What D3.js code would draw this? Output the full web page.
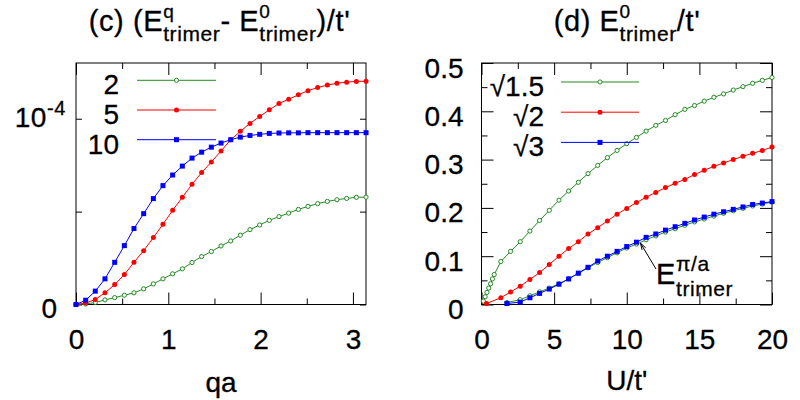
<!DOCTYPE html>
<html>
<head>
<meta charset="utf-8">
<script src="https://cdn.jsdelivr.net/npm/d3@7"></script>
<style>
  body { margin: 0; background: #fff; }
  svg { display: block; }
  text { font-family: "Liberation Sans", Arial, Helvetica, sans-serif; fill: #000; stroke: #000; stroke-width: 0.3px; }
</style>
</head>
<body>
<svg id="chart" width="800" height="400"></svg>
<script>
// ---------- panel (c): (E^q - E^0)/t' vs qa, values in units of 1e-4 ----------
const qa = [0, 0.105, 0.209, 0.314, 0.419, 0.524, 0.628, 0.733, 0.838, 0.942,
  1.047, 1.152, 1.257, 1.361, 1.466, 1.571, 1.676, 1.780, 1.885, 1.990,
  2.094, 2.199, 2.304, 2.409, 2.513, 2.618, 2.723, 2.827, 2.932, 3.037, 3.142];
const dE2 = [0, 0.003, 0.011, 0.025, 0.037, 0.050, 0.063, 0.084, 0.111, 0.138,
  0.165, 0.192, 0.226, 0.258, 0.285, 0.315, 0.342, 0.373, 0.403, 0.428,
  0.453, 0.473, 0.492, 0.512, 0.528, 0.543, 0.555, 0.564, 0.571, 0.577, 0.578];
const dE5 = [0, 0.008, 0.027, 0.063, 0.107, 0.161, 0.227, 0.290, 0.360, 0.432,
  0.507, 0.577, 0.647, 0.710, 0.767, 0.826, 0.887, 0.932, 0.975, 1.012,
  1.048, 1.082, 1.105, 1.129, 1.151, 1.168, 1.181, 1.191, 1.197, 1.201, 1.202];
const dE10 = [0, 0.023, 0.072, 0.138, 0.227, 0.317, 0.409, 0.489, 0.570, 0.640,
  0.697, 0.745, 0.788, 0.820, 0.847, 0.869, 0.887, 0.901, 0.910, 0.916,
  0.921, 0.923, 0.924, 0.924, 0.925, 0.925, 0.925, 0.925, 0.925, 0.925, 0.925];
const legendC = ['2', '5', '10'];
const Y_UNIT = 1e-4;

// ---------- panel (d): E^0/t' vs U/t' ----------
const uS15 = [0.125, 0.25, 0.375, 0.5, 0.625, 0.75, 0.875,
  1.333, 2, 2.667, 3.333, 4, 4.667, 5.333, 6, 6.667, 7.333, 8, 8.667, 9.333, 10,
  10.667, 11.333, 12, 12.667, 13.333, 14, 14.667, 15.333, 16, 16.667, 17.333, 18,
  18.667, 19.333, 20];
const eS15 = [0.007, 0.016, 0.025, 0.034, 0.043, 0.053, 0.062,
  0.089, 0.110, 0.130, 0.152, 0.174, 0.195, 0.216, 0.235, 0.253, 0.271, 0.288,
  0.304, 0.319, 0.333, 0.346, 0.359, 0.371, 0.381, 0.393, 0.404, 0.412, 0.421,
  0.429, 0.436, 0.444, 0.451, 0.458, 0.464, 0.470];
const uS2 = [0.35, 1.333, 2, 2.667, 3.333, 4, 4.667, 5.333, 6, 6.667, 7.333, 8,
  8.667, 9.333, 10, 10.667, 11.333, 12, 12.667, 13.333, 14, 14.667, 15.333, 16,
  16.667, 17.333, 18, 18.667, 19.333, 20];
const eS2 = [0.002, 0.014, 0.026, 0.038, 0.052, 0.066, 0.083, 0.100, 0.116,
  0.130, 0.146, 0.159, 0.173, 0.187, 0.199, 0.211, 0.222, 0.232, 0.242, 0.251,
  0.259, 0.269, 0.278, 0.286, 0.293, 0.300, 0.307, 0.313, 0.319, 0.326];
const uS3 = [1.75, 2.667, 3.333, 4, 4.667, 5.333, 6, 6.667, 7.333, 8, 8.667,
  9.333, 10, 10.667, 11.333, 12, 12.667, 13.333, 14, 14.667, 15.333, 16, 16.667,
  17.333, 18, 18.667, 19.333, 20];
const eS3 = [0.002, 0.005, 0.014, 0.023, 0.032, 0.042, 0.053, 0.065, 0.077,
  0.090, 0.100, 0.110, 0.120, 0.129, 0.139, 0.146, 0.154, 0.161, 0.168, 0.175,
  0.181, 0.187, 0.192, 0.197, 0.202, 0.207, 0.210, 0.213];
// E^{pi/a}_trimer (sqrt 1.5), same U grid as sqrt 3
const ePi = [0.004, 0.010, 0.018, 0.026, 0.034, 0.043, 0.053, 0.064, 0.076,
  0.087, 0.097, 0.107, 0.117, 0.125, 0.134, 0.142, 0.150, 0.157, 0.164, 0.171,
  0.177, 0.183, 0.189, 0.194, 0.199, 0.204, 0.208, 0.212];
const legendD = ['\u221A1.5', '\u221A2', '\u221A3'];

const GREEN = '#228b22', RED = '#ff0000', BLUE = '#0000ff';
const TICK_FONT = 28;
const SUB = 21, SUP = 19, MAIN = 29;

const svg = d3.select('#chart');

// sequence of text pieces; a piece with .stack is a sup/sub pair sharing one x
function richText(parent, x, y, parts, anchor) {
  const g = parent.append('g');
  let cx = 0;
  parts.forEach(p => {
    const items = p.stack || [p];
    let w = 0;
    items.forEach(s => {
      const t = g.append('text')
        .attr('x', cx).attr('y', s.dy || 0)
        .attr('font-size', s.size)
        .attr('letter-spacing', 0.6)
        .text(s.t);
      w = Math.max(w, t.node().getComputedTextLength());
    });
    cx += w;
  });
  const shift = anchor === 'middle' ? -cx / 2 : anchor === 'end' ? -cx : 0;
  g.attr('transform', `translate(${x + shift},${y})`);
  return g;
}

function drawTicks(g, axis) {
  g.call(axis);
  g.attr('font-family', null).attr('font-size', null);
  g.select('.domain').remove();
  g.selectAll('.tick line').attr('stroke', '#000').attr('stroke-width', 1);
  g.selectAll('.tick text').attr('font-size', TICK_FONT);
}

function frame(g, x, y) {
  g.append('rect')
    .attr('x', x.range()[0]).attr('y', y.range()[1])
    .attr('width', x.range()[1] - x.range()[0])
    .attr('height', y.range()[0] - y.range()[1])
    .attr('fill', 'none').attr('stroke', '#000').attr('stroke-width', 1);
}

function series(g, xs, ys, x, y, color, shape) {
  const pts = xs.map((v, i) => [x(v), y(ys[i])]);
  g.append('path')
    .attr('d', d3.line()(pts))
    .attr('fill', 'none').attr('stroke', color).attr('stroke-width', 1);
  markers(g, pts, color, shape);
}

function markers(g, pts, color, shape) {
  if (shape === 'square') {
    g.selectAll(null).data(pts).join('rect')
      .attr('x', d => d[0] - 2.5).attr('y', d => d[1] - 2.5)
      .attr('width', 5).attr('height', 5).attr('fill', color);
  } else if (shape === 'dot') {
    g.selectAll(null).data(pts).join('circle')
      .attr('cx', d => d[0]).attr('cy', d => d[1]).attr('r', 2.5).attr('fill', color);
  } else {
    g.selectAll(null).data(pts).join('circle')
      .attr('cx', d => d[0]).attr('cy', d => d[1]).attr('r', 2.1)
      .attr('fill', '#fff').attr('stroke', color).attr('stroke-width', 1);
  }
}

function legendRow(g, x0, x1, yl, label, textX, color, shape) {
  g.append('line').attr('x1', x0).attr('x2', x1).attr('y1', yl).attr('y2', yl)
    .attr('stroke', color).attr('stroke-width', 1);
  markers(g, [[(x0 + x1) / 2, yl]], color, shape);
  g.append('text').attr('x', textX).attr('y', yl + 14)
    .attr('text-anchor', 'end').attr('font-size', TICK_FONT).text(label);
}

function title(g, cx, parts) {
  richText(g, cx, 31, parts, 'middle');
}

const supSub = top => ({ stack: [{ t: top, size: SUP, dy: -13.5 }, { t: 'trimer', size: SUB, dy: 10 }] });

// ================= panel (c) =================
{
  const x = d3.scaleLinear().domain([0, Math.PI]).range([76, 366]);
  const y = d3.scaleLinear().domain([0, 1.3 * Y_UNIT]).range([304.5, 63]);
  const g = svg.append('g');
  const [x0, x1] = x.range();
  const [yb, yt] = y.range();

  drawTicks(g.append('g').attr('transform', `translate(0,${yb})`),
    d3.axisBottom(x).tickValues([0.5, 1.5, 2.5]).tickSize(-6).tickFormat(''));
  drawTicks(g.append('g').attr('transform', `translate(0,${yb})`),
    d3.axisBottom(x).tickValues([0, 1, 2, 3]).tickSize(-12).tickPadding(25).tickFormat(d3.format('d')));
  drawTicks(g.append('g').attr('transform', `translate(0,${yt})`),
    d3.axisTop(x).tickValues([0.5, 1.5, 2.5]).tickSize(-6).tickFormat(''));
  drawTicks(g.append('g').attr('transform', `translate(0,${yt})`),
    d3.axisTop(x).tickValues([0, 1, 2, 3]).tickSize(-12).tickFormat(''));
  const yTicks = [0, 0.5 * Y_UNIT, Y_UNIT];
  drawTicks(g.append('g').attr('transform', `translate(${x0},0)`),
    d3.axisLeft(y).tickValues(yTicks).tickSize(-6).tickFormat(''));
  drawTicks(g.append('g').attr('transform', `translate(${x1},0)`),
    d3.axisRight(y).tickValues(yTicks).tickSize(-6).tickFormat(''));

  g.append('text').attr('x', 57).attr('y', y(0) + 13).attr('text-anchor', 'end')
    .attr('font-size', TICK_FONT).text('0');
  richText(g, 66, y(Y_UNIT) + 8, [
    { t: '10', size: TICK_FONT },
    { t: '-4', size: SUP + 1, dy: -12 }
  ], 'end');

  frame(g, x, y);

  series(g, qa, dE2.map(v => v * Y_UNIT), x, y, GREEN, 'open');
  series(g, qa, dE5.map(v => v * Y_UNIT), x, y, RED, 'dot');
  series(g, qa, dE10.map(v => v * Y_UNIT), x, y, BLUE, 'square');

  const colors = [GREEN, RED, BLUE], shapes = ['open', 'dot', 'square'];
  legendC.forEach((lab, i) => legendRow(g, 137, 216, 80.3 + i * 29.7, lab, 119, colors[i], shapes[i]));

  title(g, 219.5, [
    { t: '(c) (E', size: MAIN },
    supSub('q'),
    { t: '- E', size: MAIN },
    supSub('0'),
    { t: ")/t'", size: MAIN }
  ]);

  g.append('text').attr('x', (x0 + x1) / 2).attr('y', 392).attr('text-anchor', 'middle')
    .attr('font-size', TICK_FONT).text('qa');
}

// ================= panel (d) =================
{
  const x = d3.scaleLinear().domain([0, 20]).range([481.5, 772]);
  const y = d3.scaleLinear().domain([0, 0.5]).range([304.5, 63]);
  const g = svg.append('g');
  const [x0, x1] = x.range();
  const [yb, yt] = y.range();
  const xMinor = [2.5, 7.5, 12.5, 17.5], xMajor = [0, 5, 10, 15, 20];
  const yMinor = [0.05, 0.15, 0.25, 0.35, 0.45], yMajor = [0, 0.1, 0.2, 0.3, 0.4, 0.5];

  drawTicks(g.append('g').attr('transform', `translate(0,${yb})`),
    d3.axisBottom(x).tickValues(xMinor).tickSize(-6).tickFormat(''));
  drawTicks(g.append('g').attr('transform', `translate(0,${yb})`),
    d3.axisBottom(x).tickValues(xMajor).tickSize(-12).tickPadding(25).tickFormat(d3.format('d')));
  drawTicks(g.append('g').attr('transform', `translate(0,${yt})`),
    d3.axisTop(x).tickValues(xMinor).tickSize(-6).tickFormat(''));
  drawTicks(g.append('g').attr('transform', `translate(0,${yt})`),
    d3.axisTop(x).tickValues(xMajor).tickSize(-12).tickFormat(''));

  drawTicks(g.append('g').attr('transform', `translate(${x0},0)`),
    d3.axisLeft(y).tickValues(yMinor).tickSize(-6).tickFormat(''));
  const ly = g.append('g').attr('transform', `translate(${x0},0)`);
  drawTicks(ly, d3.axisLeft(y).tickValues(yMajor).tickSize(-12).tickPadding(18)
    .tickFormat(v => v === 0 ? '0' : d3.format('.1f')(v)));
  ly.selectAll('.tick text').attr('dy', 14);
  drawTicks(g.append('g').attr('transform', `translate(${x1},0)`),
    d3.axisRight(y).tickValues(yMinor).tickSize(-6).tickFormat(''));
  drawTicks(g.append('g').attr('transform', `translate(${x1},0)`),
    d3.axisRight(y).tickValues(yMajor).tickSize(-12).tickFormat(''));

  frame(g, x, y);

  series(g, uS15, eS15, x, y, GREEN, 'open');
  series(g, uS3, ePi, x, y, GREEN, 'open');
  series(g, uS2, eS2, x, y, RED, 'dot');
  series(g, uS3, eS3, x, y, BLUE, 'square');

  const colors = [GREEN, RED, BLUE], shapes = ['open', 'dot', 'square'];
  legendD.forEach((lab, i) => legendRow(g, 561, 639, 82 + i * 30.2, lab, 544, colors[i], shapes[i]));

  // annotation for E^{pi/a}_trimer, arrow pointing at the curve near U = 11
  const iPt = uS3.indexOf(10.667);
  const tip = [x(uS3[iPt]) + 4, y(ePi[iPt]) - 1];
  const tail = [656, 269];
  const ang = Math.atan2(tip[1] - tail[1], tip[0] - tail[0]);
  g.append('line').attr('x1', tail[0]).attr('y1', tail[1]).attr('x2', tip[0]).attr('y2', tip[1])
    .attr('stroke', '#000').attr('stroke-width', 1);
  const head = [ang + Math.PI - 0.3, ang + Math.PI + 0.3].map(a => [tip[0] + 7 * Math.cos(a), tip[1] + 7 * Math.sin(a)]);
  g.append('path').attr('d', d3.line()([head[0], tip, head[1]]))
    .attr('fill', 'none').attr('stroke', '#000').attr('stroke-width', 1);
  richText(g, 656, 284, [
    { t: 'E', size: MAIN },
    { stack: [{ t: '\u03C0/a', size: SUB, dy: -13.5 }, { t: 'trimer', size: SUB, dy: 11.5 }] }
  ], 'start');

  title(g, 627, [
    { t: '(d) E', size: MAIN },
    supSub('0'),
    { t: "/t'", size: MAIN }
  ]);

  g.append('text').attr('x', (x0 + x1) / 2).attr('y', 390).attr('text-anchor', 'middle')
    .attr('font-size', TICK_FONT).text("U/t'");
}
</script>
</body>
</html>
